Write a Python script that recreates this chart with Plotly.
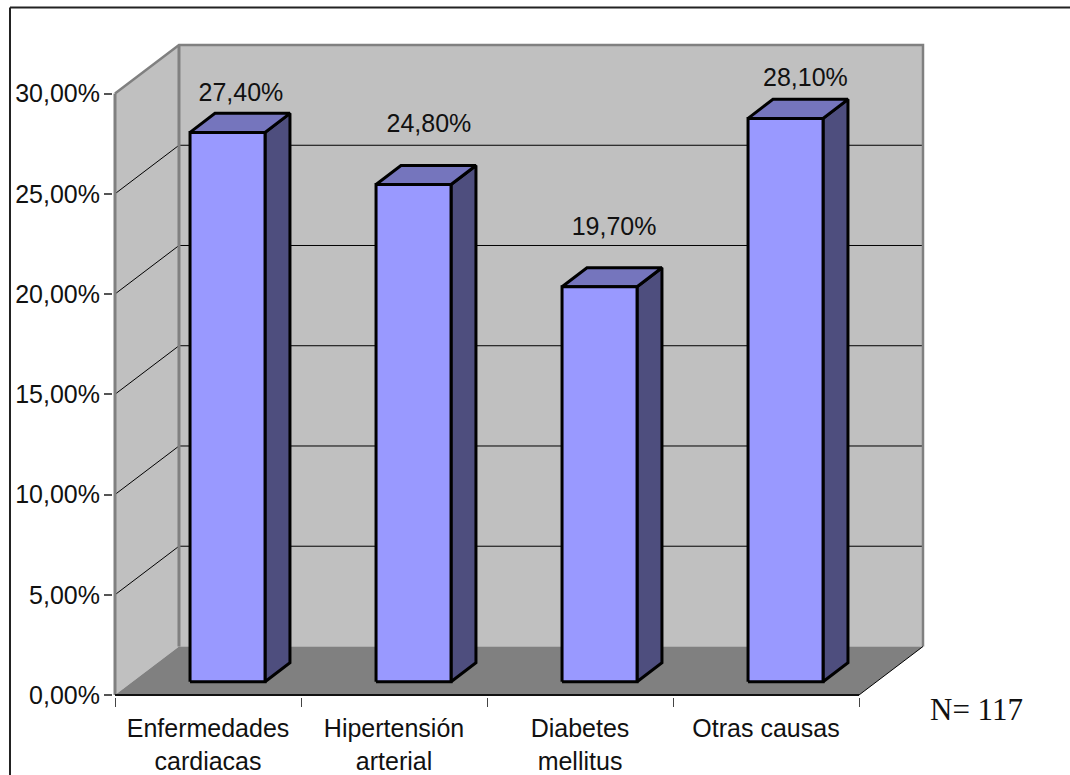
import plotly.graph_objects as go

# Chart data
categories = ["Enfermedades<br>cardiacas", "Hipertensión<br>arterial", "Diabetes<br>mellitus", "Otras causas"]
percentages = [27.4, 24.8, 19.7, 28.1]
y_ticks = [0, 5, 10, 15, 20, 25, 30]
sample_note = "N= 117"

# Box depth expressed in axis units (oblique projection of the chart box)
WALL_DX, WALL_DY = 0.344, 2.42
BAR_SHIFT_X, BAR_SHIFT_Y = 0.105, 0.66
BAR_DX, BAR_DY = 0.134, 0.95
BAR_HALF = 0.2016

# Hand placement of the value labels relative to the bar tops
LABEL_LIFT = [0.93, 2.0, 1.95, 1.0]
LABEL_NUDGE = [0.005, 0.016, 0.011, 0.04]

# Pixel scale of the axes; the plot area also holds the receding part of the box
WIDTH, HEIGHT = 1070, 775
PX_PER_X, PX_PER_Y = 186.0, 20.05
ORIGIN_X, ORIGIN_Y = 115, 695
PAD = 2

X_MAX, Y_MAX = len(categories), y_ticks[-1]
X_END, Y_END = X_MAX + WALL_DX, Y_MAX + WALL_DY
PLOT_W = X_END * PX_PER_X + 2 * PAD
PLOT_H = Y_END * PX_PER_Y + 2 * PAD
LEFT = ORIGIN_X - PAD
BOTTOM = HEIGHT - ORIGIN_Y - PAD
RIGHT = WIDTH - LEFT - PLOT_W
TOP = HEIGHT - BOTTOM - PLOT_H

FONT = "Liberation Sans, Arial, sans-serif"
DARK = "#111111"
GRAY = "#808080"
WALL = "#c0c0c0"
FRONT, TOP_FACE, SIDE = "#9999ff", "#7575bd", "#4e4e7e"


def poly(xs, ys, fill, line_color=None, line_width=0):
    """Closed filled polygon drawn in axis units."""
    return go.Scatter(
        x=list(xs) + [xs[0]], y=list(ys) + [ys[0]],
        mode="lines", fill="toself", fillcolor=fill,
        line=dict(color=line_color or fill, width=line_width),
        hoverinfo="skip", showlegend=False,
    )


def path(xs, ys, color, width):
    return go.Scatter(
        x=xs, y=ys, mode="lines", line=dict(color=color, width=width),
        hoverinfo="skip", showlegend=False,
    )


fig = go.Figure()

# Side wall, back wall and floor
fig.add_trace(poly([0, WALL_DX, WALL_DX, 0], [0, WALL_DY, Y_END, Y_MAX], WALL))
fig.add_trace(poly([WALL_DX, X_END, X_END, WALL_DX], [WALL_DY, WALL_DY, Y_END, Y_END], WALL))
fig.add_trace(poly([0, X_MAX, X_END, WALL_DX], [0, 0, WALL_DY, WALL_DY], GRAY))

# Gridlines run across the side wall and then along the back wall
for tick in y_ticks[1:-1]:
    fig.add_trace(path([0, WALL_DX, X_END], [tick, tick + WALL_DY, tick + WALL_DY], "black", 1))

# Wall outlines and the front edges of the box
fig.add_trace(path([0, WALL_DX, X_END, X_END], [Y_MAX, Y_END, Y_END, WALL_DY], GRAY, 2.5))
fig.add_trace(path([WALL_DX, WALL_DX], [WALL_DY, Y_END], GRAY, 3))
fig.add_trace(path([0, 0], [0, Y_MAX], GRAY, 3))
fig.add_trace(path([X_MAX, X_END], [0, WALL_DY], "black", 1))
fig.add_trace(path([0, X_MAX], [0, 0], DARK, 2))

# Bars: side face, top face and front face
for i, value in enumerate(percentages):
    centre = i + 0.5 + BAR_SHIFT_X
    x0, x1 = centre - BAR_HALF, centre + BAR_HALF
    y0, y1 = BAR_SHIFT_Y, value + BAR_SHIFT_Y
    fig.add_trace(poly([x1, x1 + BAR_DX, x1 + BAR_DX, x1],
                       [y0, y0 + BAR_DY, y1 + BAR_DY, y1], SIDE, "black", 3))
    fig.add_trace(poly([x0, x1, x1 + BAR_DX, x0 + BAR_DX],
                       [y1, y1, y1 + BAR_DY, y1 + BAR_DY], TOP_FACE, "black", 3))
    fig.add_trace(poly([x0, x1, x1, x0], [y0, y0, y1, y1], FRONT, "black", 3))

# Value labels above each bar
fig.add_trace(go.Scatter(
    x=[i + 0.5 + BAR_SHIFT_X + BAR_DX / 2 + nudge for i, nudge in enumerate(LABEL_NUDGE)],
    y=[v + BAR_SHIFT_Y + BAR_DY + lift for v, lift in zip(percentages, LABEL_LIFT)],
    mode="text",
    text=[f"{v:.2f}%".replace(".", ",") for v in percentages],
    textposition="middle center",
    textfont=dict(family=FONT, size=25, color=DARK),
    hoverinfo="skip", showlegend=False,
))


def px_x(px):
    return (px - LEFT) / PLOT_W


def px_y(py):
    return (HEIGHT - BOTTOM - py) / PLOT_H


# Chart-area frame (top and left edges)
fig.add_shape(type="line", xref="paper", yref="paper", layer="below",
              x0=px_x(10), x1=px_x(10), y0=px_y(775), y1=px_y(7.5),
              line=dict(color="#222222", width=2))
fig.add_shape(type="line", xref="paper", yref="paper", layer="below",
              x0=px_x(10), x1=px_x(1070), y0=px_y(7.5), y1=px_y(7.5),
              line=dict(color="#222222", width=2))

# Sample size note
fig.add_annotation(
    xref="paper", yref="paper", x=px_x(976), y=px_y(710),
    text=sample_note, showarrow=False, xanchor="center", yanchor="middle",
    font=dict(family="Liberation Serif, Times New Roman, serif", size=31, color=DARK),
)

fig.update_layout(
    width=WIDTH, height=HEIGHT,
    margin=dict(l=LEFT, r=RIGHT, t=TOP, b=BOTTOM, pad=0, autoexpand=False),
    paper_bgcolor="white", plot_bgcolor="rgba(0,0,0,0)",
    showlegend=False,
    xaxis=dict(
        range=[-PAD / PX_PER_X, X_END + PAD / PX_PER_X],
        showgrid=False, zeroline=False, showline=False,
        tickmode="array", tickvals=[i + 0.5 for i in range(X_MAX)], ticktext=categories,
        ticks="outside", ticklen=9, tickcolor="rgba(0,0,0,0)",
        tickfont=dict(family=FONT, size=25, color=DARK),
        minor=dict(tickmode="array", tickvals=list(range(X_MAX + 1)),
                   ticks="outside", ticklen=9, tickwidth=1, tickcolor="#444444"),
    ),
    yaxis=dict(
        range=[-PAD / PX_PER_Y, Y_END + PAD / PX_PER_Y],
        showgrid=False, zeroline=False, showline=False,
        tickmode="array", tickvals=y_ticks,
        ticktext=[f"{t:.2f}%".replace(".", ",") for t in y_ticks],
        ticks="outside", ticklen=8, tickwidth=2, tickcolor="#555555",
        ticklabelstandoff=-1,
        tickfont=dict(family=FONT, size=25, color=DARK),
    ),
)

fig.write_html("out.html", config={"displayModeBar": False})
